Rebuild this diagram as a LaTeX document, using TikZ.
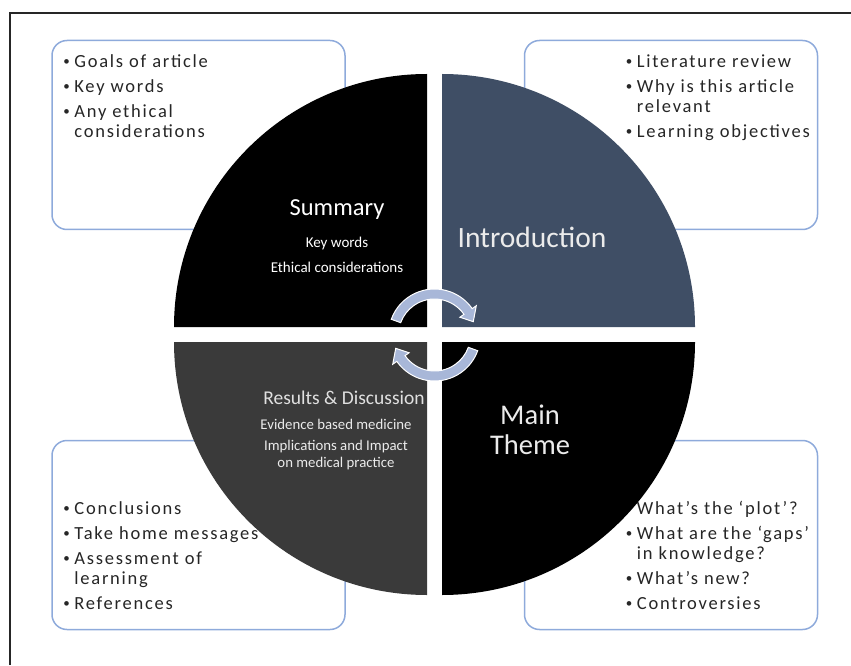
\documentclass[tikz,border=0pt]{standalone}
\usepackage{fontspec}
\setmainfont{Carlito}
\newfontfamily\listfont{Carlito}[LetterSpace=9.5]
\usepackage{tikz}
\usetikzlibrary{positioning}
\definecolor{boxblue}{HTML}{8EAADB}
\definecolor{introslate}{HTML}{3F4E65}
\definecolor{resultsgrey}{HTML}{3A3A3A}
\definecolor{cyclearrow}{HTML}{A8B7D8}
\definecolor{listgrey}{HTML}{262626}
\newcommand{\bul}{\makebox[11pt][l]{\raisebox{1.5pt}{\fontsize{13}{13}\selectfont•}}}
\newcommand{\ind}{\hspace*{11pt}}

\begin{document}
\begin{tikzpicture}[x=1pt,y=1pt,
			list box/.style={draw=boxblue,line width=1.5pt,rounded corners=15pt,
				fill=white,minimum width=293pt,minimum height=189pt,inner sep=0pt},
			list text/.style={inner sep=0pt,align=left,text=listgrey,
				font=\listfont\fontsize{18.5}{20}\selectfont},
			quarter label/.style={inner sep=0pt,align=center,text=white},
			cycle arrow/.style={fill=cyclearrow,draw=white,line width=1pt}]
			
			\useasboundingbox (0,0) rectangle (851,665);
			\draw[line width=2pt,black!85] (10,0) -- (10,652) -- (851,652);
			
			\node[list box] (goalsbox) at (198.5,530) {};
			\node[list box] (litbox) at (671,530) {};
			\node[list box] (concbox) at (198.5,130) {};
			\node[list box] (plotbox) at (671,130) {};
			
			\node[list text,below right=13.5pt and 12pt of goalsbox.north west] (goals)
				{\strut\bul Goals of article\\[5pt]\bul Key words\\[5pt]\bul Any ethical\\\ind considerations};
			\node[list text,below right=13.5pt and 102pt of litbox.north west] (lit)
				{\strut\bul Literature review\\[5pt]\bul Why is this article\\\ind relevant\\[5pt]\bul Learning objectives};
			\node[list text,above right=15pt and 12pt of concbox.south west] (conc)
				{\bul Conclusions\\[5pt]\bul Take home messages\\[5pt]\bul Assessment of\\\ind learning\\[5pt]\bul References\strut};
			\node[list text,above right=15pt and 102pt of plotbox.south west] (plot)
				{\bul What’s the ‘plot’?\\[5pt]\bul What are the ‘gaps’\\\ind in knowledge?\\[5pt]\bul What’s new?\\[5pt]\bul Controversies\strut};
			
			\fill[black] (427,338) -- ++(0,253) arc[start angle=90,end angle=180,radius=253] -- cycle;
			\fill[introslate] (442,338) -- ++(253,0) arc[start angle=0,end angle=90,radius=253] -- cycle;
			\fill[resultsgrey] (427,323) -- ++(-253,0) arc[start angle=180,end angle=270,radius=253] -- cycle;
			\fill[black] (442,323) -- ++(0,-253) arc[start angle=270,end angle=360,radius=253] -- cycle;
			
			\node[quarter label,font=\fontsize{24.5}{28}\selectfont] (summary) at (337,455) {Summary};
			\node[quarter label,font=\fontsize{15}{25}\selectfont] (summarysub) at (337,410) {Key words\\Ethical considerations};
			\node[quarter label,text=white!92!black,font=\fontsize{29.5}{32}\selectfont] (intro) at (532,428) {Introduction};
			\node[quarter label,text=white!92!black,font=\fontsize{28.5}{30}\selectfont] (maintheme) at (530,235) {Main\\Theme};
			\node[quarter label,text=white!88!black,font=\fontsize{19.5}{22}\selectfont] (results) at (344,267) {Results \& Discussion};
			\node[quarter label,text=white!92!black,font=\fontsize{14.8}{17}\selectfont] (ebm) at (336,241) {Evidence based medicine};
			\node[quarter label,text=white!92!black,font=\fontsize{14.8}{17}\selectfont] (impact) at (336,209.5) {Implications and Impact\\on medical practice};
			
			\begin{scope}[shift={(434.5,330)}]
				\filldraw[cycle arrow] (160:46) arc[start angle=160,end angle=35,radius=46] -- (35:51) -- (19:41) -- (35:31) -- (35:36) arc[start angle=35,end angle=160,radius=36] -- cycle;
				\filldraw[cycle arrow] (-20:46) arc[start angle=-20,end angle=-145,radius=46] -- (-145:51) -- (-161:41) -- (-145:31) -- (-145:36) arc[start angle=-145,end angle=-20,radius=36] -- cycle;
			\end{scope}
			
		\end{tikzpicture}
\end{document}
